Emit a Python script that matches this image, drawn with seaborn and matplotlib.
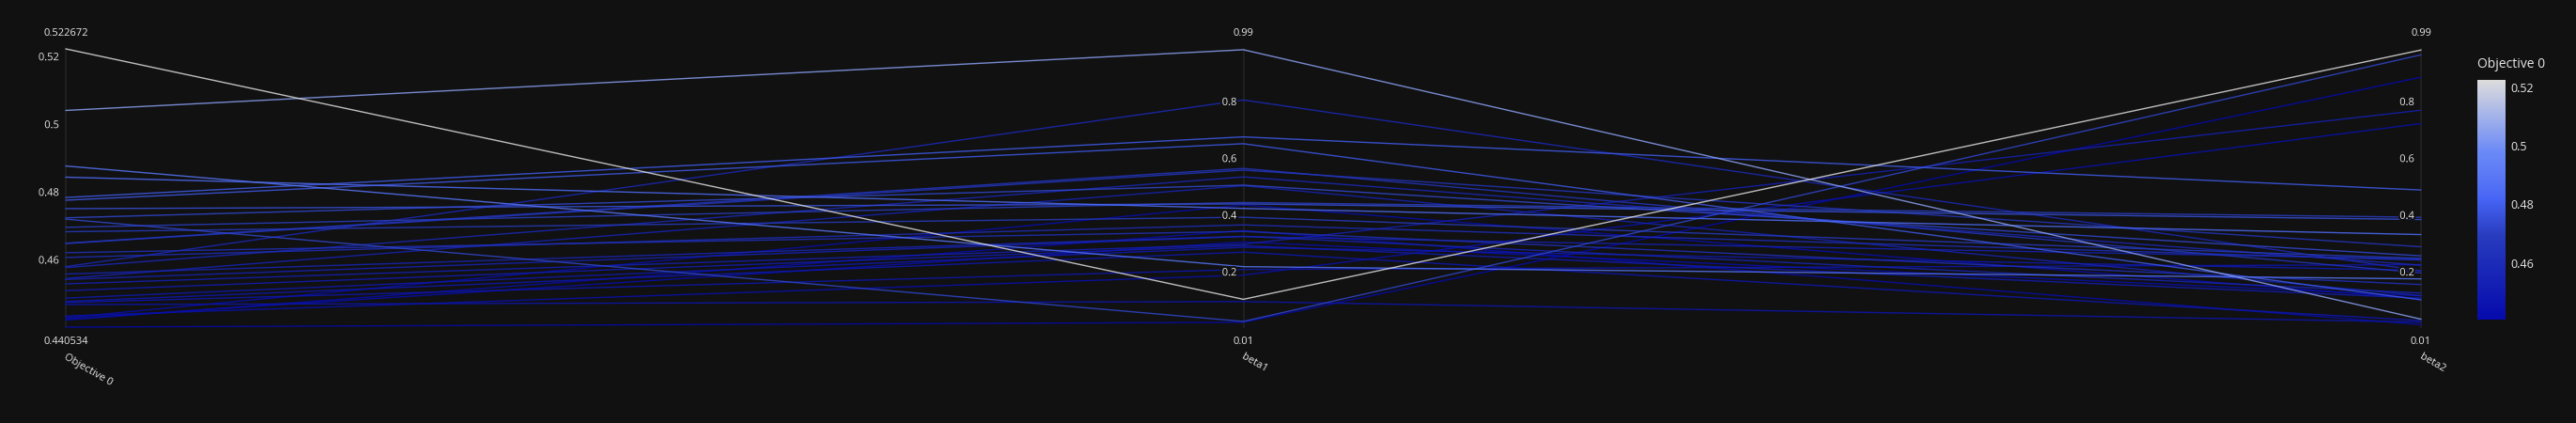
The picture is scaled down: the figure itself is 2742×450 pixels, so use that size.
import numpy as np
import pandas as pd
import matplotlib
matplotlib.use("Agg")
import matplotlib.pyplot as plt
import matplotlib.patheffects as pe
from matplotlib.colors import LinearSegmentedColormap, Normalize
import seaborn as sns

# === Data (one entry per trial) ===
objective = [0.522672, 0.5045, 0.4881, 0.4848, 0.4788, 0.4780, 0.4755, 0.4728,
             0.4724, 0.4700, 0.4687, 0.4653, 0.4652, 0.4625, 0.4611, 0.4584,
             0.4581, 0.4562, 0.4549, 0.4546, 0.4533, 0.4513, 0.4491, 0.4481,
             0.4478, 0.4472, 0.4438, 0.4433, 0.4430, 0.4426, 0.440534]
beta1 = [0.108, 0.987, 0.223, 0.428, 0.680, 0.656, 0.444, 0.510,
         0.030, 0.449, 0.397, 0.569, 0.563, 0.347, 0.370, 0.810,
         0.539, 0.330, 0.508, 0.329, 0.302, 0.297, 0.291, 0.274,
         0.213, 0.100, 0.193, 0.440, 0.310, 0.350, 0.027]
beta2 = [0.986, 0.038, 0.180, 0.336, 0.493, 0.106, 0.389, 0.261,
         0.969, 0.397, 0.252, 0.201, 0.293, 0.160, 0.246, 0.208,
         0.228, 0.130, 0.121, 0.250, 0.774, 0.112, 0.210, 0.033,
         0.230, 0.028, 0.727, 0.110, 0.120, 0.019, 0.890]

axis_names = ["Objective 0", "beta1", "beta2"]
axis_ranges = [(min(objective), max(objective)), (0.01, 0.99), (0.01, 0.99)]
axis_ticks = [[0.46, 0.48, 0.5, 0.52], [0.2, 0.4, 0.6, 0.8], [0.2, 0.4, 0.6, 0.8]]
range_labels = [("0.440534", "0.522672"), ("0.01", "0.99"), ("0.01", "0.99")]
cbar_ticks = [0.46, 0.48, 0.5, 0.52]

# === Style ===
bg = "#111111"
fg = "#e6e6e6"
sns.set_theme(style="dark", rc={"figure.facecolor": bg, "axes.facecolor": bg,
                                "savefig.facecolor": bg})
plt.rcParams["font.family"] = ["Open Sans", "DejaVu Sans"]

# plotly "Blues" colorscale
blues = LinearSegmentedColormap.from_list("plotly_blues", [
    (0.0, (5/255, 10/255, 172/255)),
    (0.35, (40/255, 60/255, 190/255)),
    (0.5, (70/255, 100/255, 245/255)),
    (0.6, (90/255, 120/255, 245/255)),
    (0.7, (106/255, 137/255, 247/255)),
    (1.0, (220/255, 220/255, 220/255)),
])

# === Long table: normalised position on each axis ===
cols = [objective, beta1, beta2]
rows = []
for t in range(len(objective)):
    for i, col in enumerate(cols):
        lo, hi = axis_ranges[i]
        rows.append({"trial": t, "axis": i, "y": (col[t] - lo) / (hi - lo),
                     "Objective 0": objective[t]})
df = pd.DataFrame(rows)

W, H = 2742, 450
fig = plt.figure(figsize=(W / 100, H / 100), dpi=100)
ax = fig.add_axes([70 / W, 1 - 348 / H, (2577 - 70) / W, (348 - 52) / H])
ax.set_xlim(0, 2)
ax.set_ylim(0, 1)
ax.axis("off")

# axis lines
for i in range(3):
    ax.plot([i, i], [0, 1], color="#1f1f1f", lw=1.5, zorder=1, clip_on=False)

sns.lineplot(data=df, x="axis", y="y", hue="Objective 0", units="trial",
             estimator=None, sort=False, palette=blues,
             hue_norm=axis_ranges[0], legend=False, lw=1.0, alpha=0.85,
             ax=ax, zorder=2)
for line in ax.get_lines():
    line.set_clip_on(False)

glow = [pe.withStroke(linewidth=3, foreground=bg)]
px = 1 / (348 - 52)  # one pixel in axis units (y)
for i in range(3):
    lo, hi = axis_ranges[i]
    for tv in axis_ticks[i]:
        yn = (tv - lo) / (hi - lo)
        ax.text(i - 7 / (2577 - 70) * 2, yn, f"{tv:g}", ha="right", va="center",
                color=fg, fontsize=8, path_effects=glow, zorder=5)
    ax.text(i, 1 + 17 * px, range_labels[i][1], ha="center", va="center",
            color=fg, fontsize=8, zorder=5)
    ax.text(i, -16 * px, range_labels[i][0], ha="center", va="center",
            color=fg, fontsize=8, zorder=5)
    ax.text(i + 2 / (2577 - 70) * 2, -26 * px, axis_names[i], ha="left",
            va="top", rotation=-30, rotation_mode="anchor", color=fg,
            fontsize=8, zorder=5)

# === Colorbar ===
cax = fig.add_axes([2637 / W, 1 - 340 / H, 30 / W, 255 / H])
sm = plt.cm.ScalarMappable(cmap=blues, norm=Normalize(*axis_ranges[0]))
cb = fig.colorbar(sm, cax=cax, ticks=cbar_ticks)
cb.outline.set_visible(False)
cb.ax.tick_params(length=0, colors=fg, labelsize=9, pad=4)
cb.ax.set_yticklabels([f"{t:g}" for t in cbar_ticks])
fig.text(2637 / W, 1 - 69 / H, "Objective 0", color=fg, fontsize=10,
         ha="left", va="center")

fig.savefig("out.png", dpi=100, facecolor=bg)
